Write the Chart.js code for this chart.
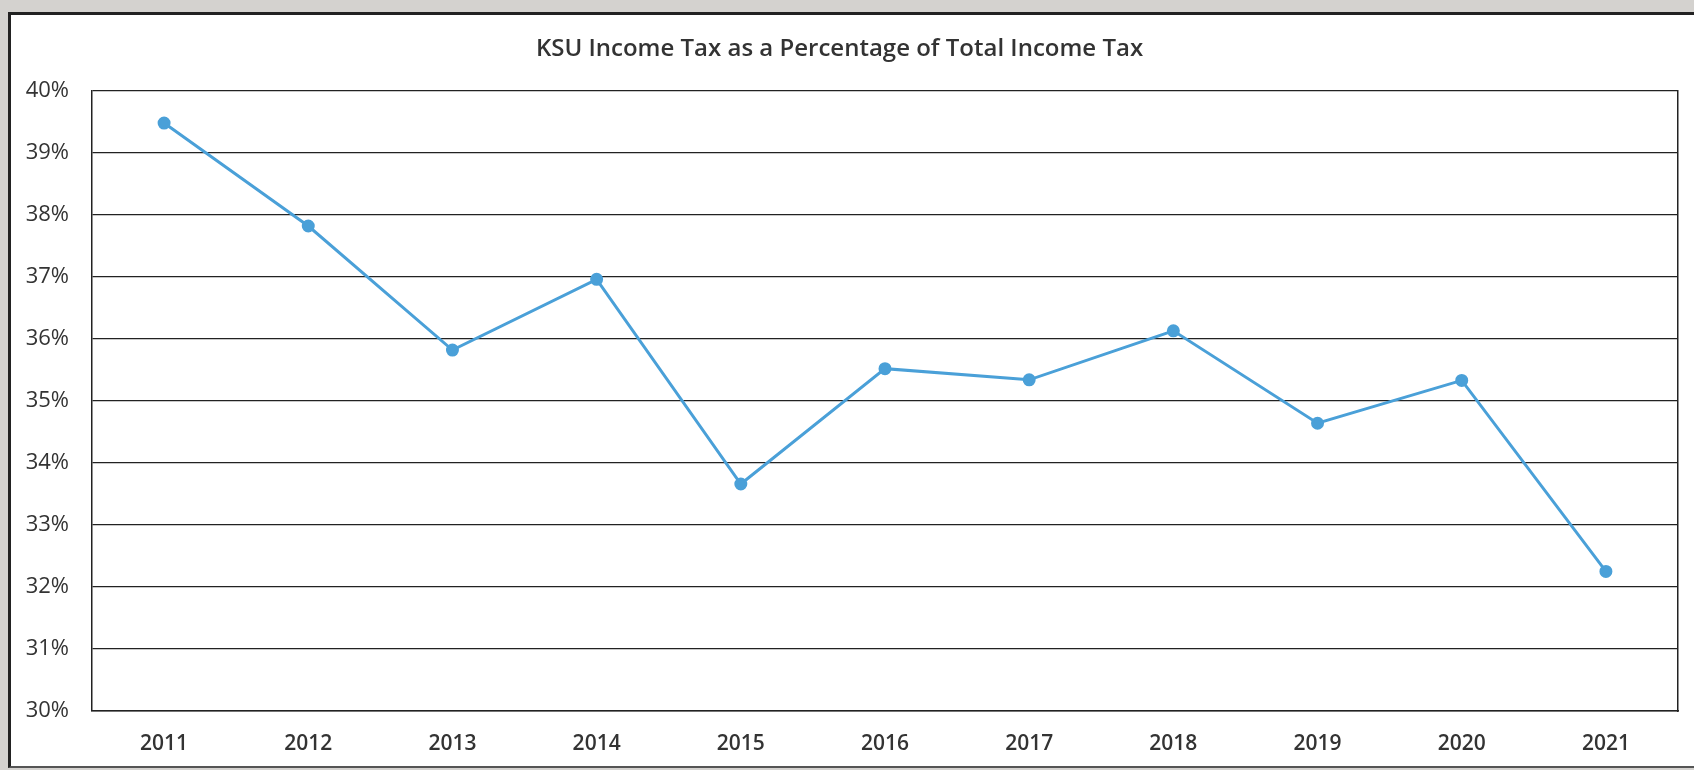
<!DOCTYPE html>
<html>
<head>
<meta charset="utf-8">
<script src="https://cdn.jsdelivr.net/npm/chart.js@4"></script>
<style>
  html, body { margin: 0; padding: 0; overflow: hidden; }
  body { width: 1694px; height: 770px; background: #d4d2cf; position: relative; }
  #frame { position: absolute; left: 8px; top: 12px; width: 1683px; height: 751px; background: #fff;
           border-left: 3px solid #222; border-top: 3px solid #222; border-bottom: 2px solid #555; }
  #grafico { position: absolute; left: 0; top: 0; }
</style>
</head>
<body>
<div id="frame"></div>
<canvas id="grafico" width="1694" height="770"></canvas>
<script>
// años del eje x
const years = ['2011', '2012', '2013', '2014', '2015', '2016', '2017', '2018', '2019', '2020', '2021'];
// porcentaje KSU sobre el total (en %)
const ksuShare = [39.48, 37.82, 35.82, 36.96, 33.66, 35.52, 35.34, 36.13, 34.64, 35.33, 32.25];
// escala del eje y
const yMin = 30;
const yMax = 40;

const textColor = '#333333';
const font = "'Open Sans', 'Liberation Sans', sans-serif";

function grafico_linea() {
  const ctx = document.getElementById('grafico');

  new Chart(ctx, {
    type: 'line',
    data: {
      labels: years,
      datasets: [{
        label: 'KSU Income Tax as a Percentage of Total Income Tax',
        data: ksuShare,
        borderColor: '#4aa0d8',
        backgroundColor: '#4aa0d8',
        borderWidth: 3,
        pointRadius: 5,
        pointHoverRadius: 5,
        tension: 0
      }]
    },
    options: {
      responsive: false,
      animation: false,
      layout: { padding: { left: 0, right: 15, top: 0, bottom: 0 } },
      plugins: {
        legend: { display: false },
        tooltip: { enabled: false },
        title: {
          display: true,
          text: 'KSU Income Tax as a Percentage of Total Income Tax',
          color: textColor,
          font: { family: font, size: 24, weight: '600' },
          padding: { top: 35, bottom: 27 }
        }
      },
      scales: {
        x: {
          offset: true,
          afterFit: (axis) => { axis.height = 59; },
          grid: { display: false, drawTicks: false },
          border: { display: true, color: '#222', width: 1.5 },
          ticks: { color: textColor, padding: 20, font: { family: font, size: 21, weight: '600' } }
        },
        y: {
          min: yMin,
          max: yMax,
          afterFit: (axis) => { axis.width = 92; },
          grid: { color: '#222', lineWidth: 1.3, drawTicks: false },
          border: { display: true, color: '#222', width: 1.5 },
          ticks: {
            stepSize: 1,
            color: textColor,
            padding: 23,
            font: { family: font, size: 22 },
            callback: (v) => v + '%'
          }
        },
        yRight: {
          position: 'right',
          min: yMin,
          max: yMax,
          afterFit: (axis) => { axis.width = 1; },
          grid: { drawOnChartArea: false, drawTicks: false },
          border: { display: true, color: '#222', width: 1.5 },
          ticks: { display: false }
        }
      }
    }
  });
}

grafico_linea();
</script>
</body>
</html>
